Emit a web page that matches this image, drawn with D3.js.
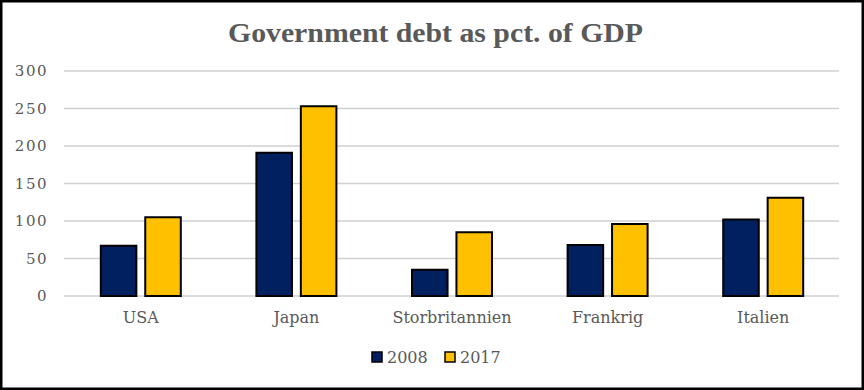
<!DOCTYPE html>
<html>
<head>
<meta charset="utf-8">
<script src="https://cdn.jsdelivr.net/npm/d3@7"></script>
<style>
  body { margin: 0; background: #fff; }
  svg { display: block; }
</style>
</head>
<body>
<svg id="chart" width="864" height="390"></svg>
<script>
var categories = ["USA", "Japan", "Storbritannien", "Frankrig", "Italien"];
var seriesNames = ["2008", "2017"];
var values2008 = [67, 191, 35, 68, 102];
var values2017 = [105, 253, 85, 96, 131];
var yTicks = [0, 50, 100, 150, 200, 250, 300];
var colors = ["#002060", "#FFC000"];

var series = [values2008, values2017];
var font = "'DejaVu Serif', 'Liberation Serif', serif";

var svg = d3.select("#chart");

// outer frame
svg.append("rect")
    .attr("x", 1).attr("y", 1)
    .attr("width", 862).attr("height", 388)
    .attr("fill", "#fff")
    .attr("stroke", "#000")
    .attr("stroke-width", 3);

svg.append("text")
    .attr("x", 228).attr("y", 42)
    .attr("font-family", "'Liberation Serif', serif")
    .attr("font-weight", "bold")
    .attr("font-size", 27)
    .attr("textLength", 415)
    .attr("lengthAdjust", "spacingAndGlyphs")
    .attr("fill", "#595959")
    .text("Government debt as pct. of GDP");

var xScale = d3.scaleBand()
    .domain(categories)
    .range([63, 841]);

var inner = d3.scaleBand()
    .domain(seriesNames)
    .range([xScale.bandwidth() / 2 - 40, xScale.bandwidth() / 2 + 40])
    .paddingInner(0.2);

var yScale = d3.scaleLinear()
    .domain([0, 300])
    .range([296, 71]);

// gridlines
svg.append("g")
    .selectAll("line")
    .data(yTicks)
    .enter().append("line")
    .attr("x1", 64)
    .attr("x2", 839)
    .attr("y1", function(d) { return yScale(d); })
    .attr("y2", function(d) { return yScale(d); })
    .attr("stroke", "#d0d0d0")
    .attr("stroke-width", 1.5);

var yAxis = d3.axisLeft(yScale)
    .tickValues(yTicks)
    .tickSize(0)
    .tickPadding(0);

svg.append("g")
    .attr("transform", "translate(48,0)")
    .call(yAxis)
    .call(function(g) { g.select(".domain").remove(); })
    .selectAll("text")
    .attr("font-family", font)
    .attr("font-size", 15)
    .attr("letter-spacing", 1.5)
    .attr("fill", "#595959");

var xAxis = d3.axisBottom(xScale)
    .tickSize(0)
    .tickPadding(0);

svg.append("g")
    .attr("transform", "translate(0,312)")
    .call(xAxis)
    .call(function(g) { g.select(".domain").remove(); })
    .selectAll("text")
    .attr("font-family", font)
    .attr("font-size", 16)
    .attr("fill", "#595959");

// bars
var groups = svg.append("g")
    .selectAll("g")
    .data(series)
    .enter().append("g")
    .attr("fill", function(d, i) { return colors[i]; });

groups.each(function(vals, si) {
    d3.select(this).selectAll("rect")
        .data(vals)
        .enter().append("rect")
        .attr("x", function(d, i) { return xScale(categories[i]) + inner(seriesNames[si]); })
        .attr("width", inner.bandwidth())
        .attr("y", function(d) { return yScale(d); })
        .attr("height", function(d) { return yScale(0) - yScale(d); })
        .attr("stroke", "#000")
        .attr("stroke-width", 2);
});

// legend
var legend = svg.append("g")
    .attr("transform", "translate(372,352)");

var items = legend.selectAll("g")
    .data(seriesNames)
    .enter().append("g")
    .attr("transform", function(d, i) { return "translate(" + (i * 73) + ",0)"; });

items.append("rect")
    .attr("width", 10).attr("height", 10)
    .attr("fill", function(d, i) { return colors[i]; })
    .attr("stroke", "#000")
    .attr("stroke-width", 1.5);

items.append("text")
    .attr("x", 15).attr("y", 11)
    .attr("font-family", font)
    .attr("font-size", 16)
    .attr("fill", "#595959")
    .text(function(d) { return d; });
</script>
</body>
</html>
